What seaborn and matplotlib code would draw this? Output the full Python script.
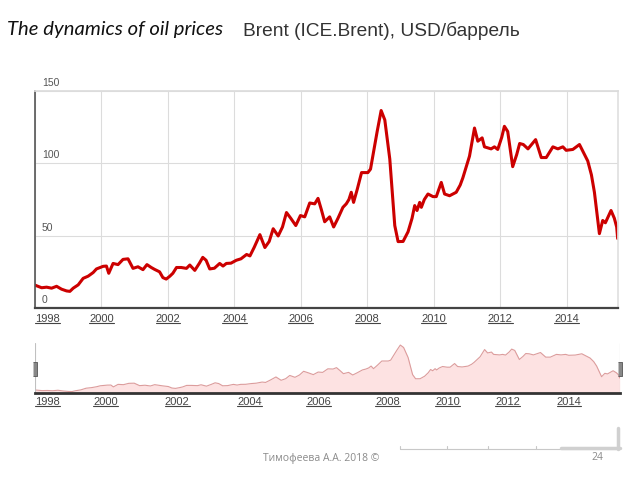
import matplotlib
matplotlib.use("Agg")
import matplotlib.pyplot as plt
from matplotlib.lines import Line2D
from matplotlib.transforms import IdentityTransform
import seaborn as sns
import pandas as pd
import numpy as np

# Стиль
sns.set_theme(style="white")
plt.rcParams['font.family'] = ['Liberation Sans', 'DejaVu Sans']

# Данные (Brent, USD/баррель)
years = [1998.00, 1998.20, 1998.35, 1998.50, 1998.65, 1998.80, 1998.95, 1999.05, 1999.15, 1999.30,
         1999.45, 1999.60, 1999.75, 1999.85, 2000.05, 2000.15, 2000.22, 2000.35, 2000.50, 2000.65,
         2000.80, 2000.95, 2001.10, 2001.25, 2001.37, 2001.50, 2001.60, 2001.75, 2001.85, 2001.95,
         2002.06, 2002.15, 2002.26, 2002.40, 2002.56, 2002.66, 2002.81, 2002.95, 2003.05, 2003.15,
         2003.26, 2003.40, 2003.56, 2003.66, 2003.76, 2003.90, 2004.06, 2004.20, 2004.37, 2004.47,
         2004.60, 2004.77, 2004.92, 2005.05, 2005.17, 2005.32, 2005.45, 2005.57, 2005.70, 2005.85,
         2005.99, 2006.12, 2006.27, 2006.42, 2006.52, 2006.62, 2006.72, 2006.87, 2006.99, 2007.12,
         2007.27, 2007.37, 2007.45, 2007.52, 2007.59, 2007.70, 2007.83, 2008.02, 2008.10, 2008.17,
         2008.30, 2008.42, 2008.53, 2008.68, 2008.83, 2008.93, 2009.08, 2009.23, 2009.35, 2009.43,
         2009.50, 2009.58, 2009.63, 2009.72, 2009.83, 2009.98, 2010.08, 2010.23, 2010.33, 2010.48,
         2010.68, 2010.80, 2010.88, 2011.08, 2011.23, 2011.33, 2011.46, 2011.53, 2011.73, 2011.83,
         2011.93, 2012.05, 2012.13, 2012.23, 2012.38, 2012.50, 2012.59, 2012.70, 2012.84, 2013.07,
         2013.24, 2013.39, 2013.50, 2013.59, 2013.74, 2013.89, 2013.99, 2014.19, 2014.39, 2014.50,
         2014.64, 2014.75, 2014.84, 2014.99, 2015.09, 2015.17, 2015.34, 2015.44, 2015.51, 2015.54]
brent = [15.8, 14.0, 14.4, 13.7, 15.0, 13.0, 11.8, 11.5, 13.7, 16.0,
         20.5, 22.0, 24.5, 27.0, 28.8, 29.0, 24.0, 30.8, 30.0, 33.6,
         34.0, 27.4, 28.5, 26.5, 30.0, 28.0, 26.7, 25.0, 21.0, 20.0,
         22.0, 24.0, 28.0, 28.0, 27.4, 29.7, 26.0, 31.0, 35.0, 33.0,
         27.0, 27.5, 30.8, 29.0, 30.8, 31.0, 33.0, 34.0, 37.0, 36.0,
         42.0, 50.7, 41.8, 46.0, 54.8, 49.8, 56.0, 66.0, 62.0, 57.0,
         63.9, 63.0, 72.6, 72.0, 75.8, 68.0, 59.6, 63.0, 56.0, 62.0,
         69.6, 72.0, 75.0, 80.0, 73.0, 82.0, 93.6, 93.6, 96.0, 105.0,
         122.0, 136.5, 130.0, 103.0, 57.0, 45.9, 46.0, 52.7, 62.0, 70.8,
         67.4, 73.0, 69.6, 75.0, 78.8, 77.0, 77.0, 86.8, 78.8, 77.6,
         80.0, 85.0, 90.0, 105.0, 124.4, 115.3, 117.6, 111.4, 110.0, 111.4,
         109.6, 118.0, 125.6, 122.0, 97.7, 106.0, 113.7, 113.0, 110.0, 116.4,
         104.0, 104.0, 108.0, 111.4, 110.0, 111.4, 109.0, 109.6, 113.0, 108.0,
         101.6, 92.0, 80.0, 51.4, 60.5, 58.9, 67.4, 62.0, 56.0, 48.0]
tick_years = [1998, 2000, 2002, 2004, 2006, 2008, 2010, 2012, 2014]
y_ticks = [0, 50, 100, 150]

df = pd.DataFrame({'year': years, 'brent': brent})

fig = plt.figure(figsize=(6.4, 4.8), dpi=100)
W, H = 640, 480

# Основной график
ax = fig.add_axes([35 / W, 1 - 308 / H, 583 / W, 217 / H])
sns.lineplot(data=df, x='year', y='brent', ax=ax, color='#cc0000', linewidth=2.2)
ax.set_xlim(1998, 2015.55)
ax.set_ylim(0, 150)
ax.set_xlabel('')
ax.set_ylabel('')
ax.set_xticks(tick_years)
ax.set_xticklabels([str(y) for y in tick_years], fontsize=8, color='#444')
ax.get_xticklabels()[0].set_horizontalalignment('left')
ax.set_yticks(y_ticks)
ax.set_yticklabels([])
ax.tick_params(axis='both', length=0, pad=4)
ax.grid(True, color='#dcdcdc', linewidth=0.8)
ax.spines['left'].set_color('#555')
ax.spines['left'].set_linewidth(1.2)
ax.spines['bottom'].set_color('#444')
ax.spines['bottom'].set_linewidth(1.6)
ax.spines['right'].set_color('#e0e0e0')
ax.spines['top'].set_color('#dcdcdc')
for v in y_ticks:
    ax.annotate(str(v), xy=(0, v), xycoords=ax.get_yaxis_transform(),
                xytext=(7, 3), textcoords='offset pixels', va='bottom',
                fontsize=7.5, color='#555')

# Навигатор
nav_knot_years = [1998, 2000, 2002, 2004, 2008, 2010, 2012, 2014, 2015.55]
nav_knot_px = [35, 105.5, 177.3, 249.3, 387.7, 447.7, 507.7, 569, 620]


def fwd(x):
    return np.interp(x, nav_knot_years, nav_knot_px)


def inv(x):
    return np.interp(x, nav_knot_px, nav_knot_years)


ax2 = fig.add_axes([35 / W, 1 - 393 / H, 585 / W, 50 / H])
ax2.set_xscale('function', functions=(fwd, inv))
ax2.fill_between(df['year'], df['brent'], 0, color='#fde2e2', linewidth=0)
sns.lineplot(data=df, x='year', y='brent', ax=ax2, color='#dc9c9c', linewidth=0.8)
ax2.set_xlim(1998, 2015.55)
ax2.set_ylim(7.6, 142)
ax2.set_xlabel('')
ax2.set_ylabel('')
ax2.set_yticks([])
ax2.set_xticks(tick_years)
ax2.set_xticklabels([str(y) for y in tick_years], fontsize=8, color='#444')
ax2.get_xticklabels()[0].set_horizontalalignment('left')
ax2.tick_params(axis='x', length=0, pad=3)
for s in ['left', 'right', 'top']:
    ax2.spines[s].set_visible(False)
ax2.spines['bottom'].set_color('#333')
ax2.spines['bottom'].set_linewidth(2)
handle = [(-0.14, -0.5), (0.14, -0.5), (0.14, 0.5), (-0.14, 0.5)]
for xe in ax2.get_xlim():
    ax2.axvline(xe, color='#c0c0c0', linewidth=0.8)
    ax2.plot([xe], [0.49], transform=ax2.get_xaxis_transform(), marker=handle,
             markersize=10, color='#888', markeredgecolor='#555', markeredgewidth=0.6,
             clip_on=False)

# Подчёркнутые подписи годов
fig.canvas.draw()
for lbl in ax.get_xticklabels() + ax2.get_xticklabels():
    bb = lbl.get_window_extent()
    fig.add_artist(Line2D([bb.x0, bb.x1], [bb.y0 + 1, bb.y0 + 1], color='#444',
                          linewidth=0.8, transform=IdentityTransform()))

# Заголовки
fig.text(7 / W, 1 - 30 / H, 'The dynamics of oil prices', fontsize=14.6, style='italic',
         family=['Lato', 'DejaVu Sans'], color='#111', va='center')
fig.text(243 / W, 1 - 31 / H, 'Brent (ICE.Brent), USD/баррель', fontsize=13.8,
         color='#333', va='center')

# Нижний колонтитул и линейка
fig.text(263 / W, 1 - 458 / H, 'Тимофеева А.А. 2018 ©', fontsize=7.5, color='#8a8a8a',
         family=['Open Sans', 'DejaVu Sans'], va='center')
fig.text(597 / W, 1 - 458 / H, '24', fontsize=7.5, color='#8a8a8a',
         family=['Open Sans', 'DejaVu Sans'], va='center', ha='center')
fig.add_artist(Line2D([400 / W, 620 / W], [1 - 449 / H] * 2, color='#c8c8c8', linewidth=0.8))
for xt in [400, 447, 488, 536]:
    fig.add_artist(Line2D([xt / W] * 2, [1 - 449 / H, 1 - 446 / H], color='#c8c8c8', linewidth=0.8))
fig.add_artist(Line2D([561 / W, 620 / W], [1 - 448 / H] * 2, color='#d0d0d0', linewidth=2.5))
fig.add_artist(Line2D([618 / W] * 2, [1 - 428 / H, 1 - 449 / H], color='#d0d0d0', linewidth=2.5))

plt.savefig('out.png', dpi=100)
